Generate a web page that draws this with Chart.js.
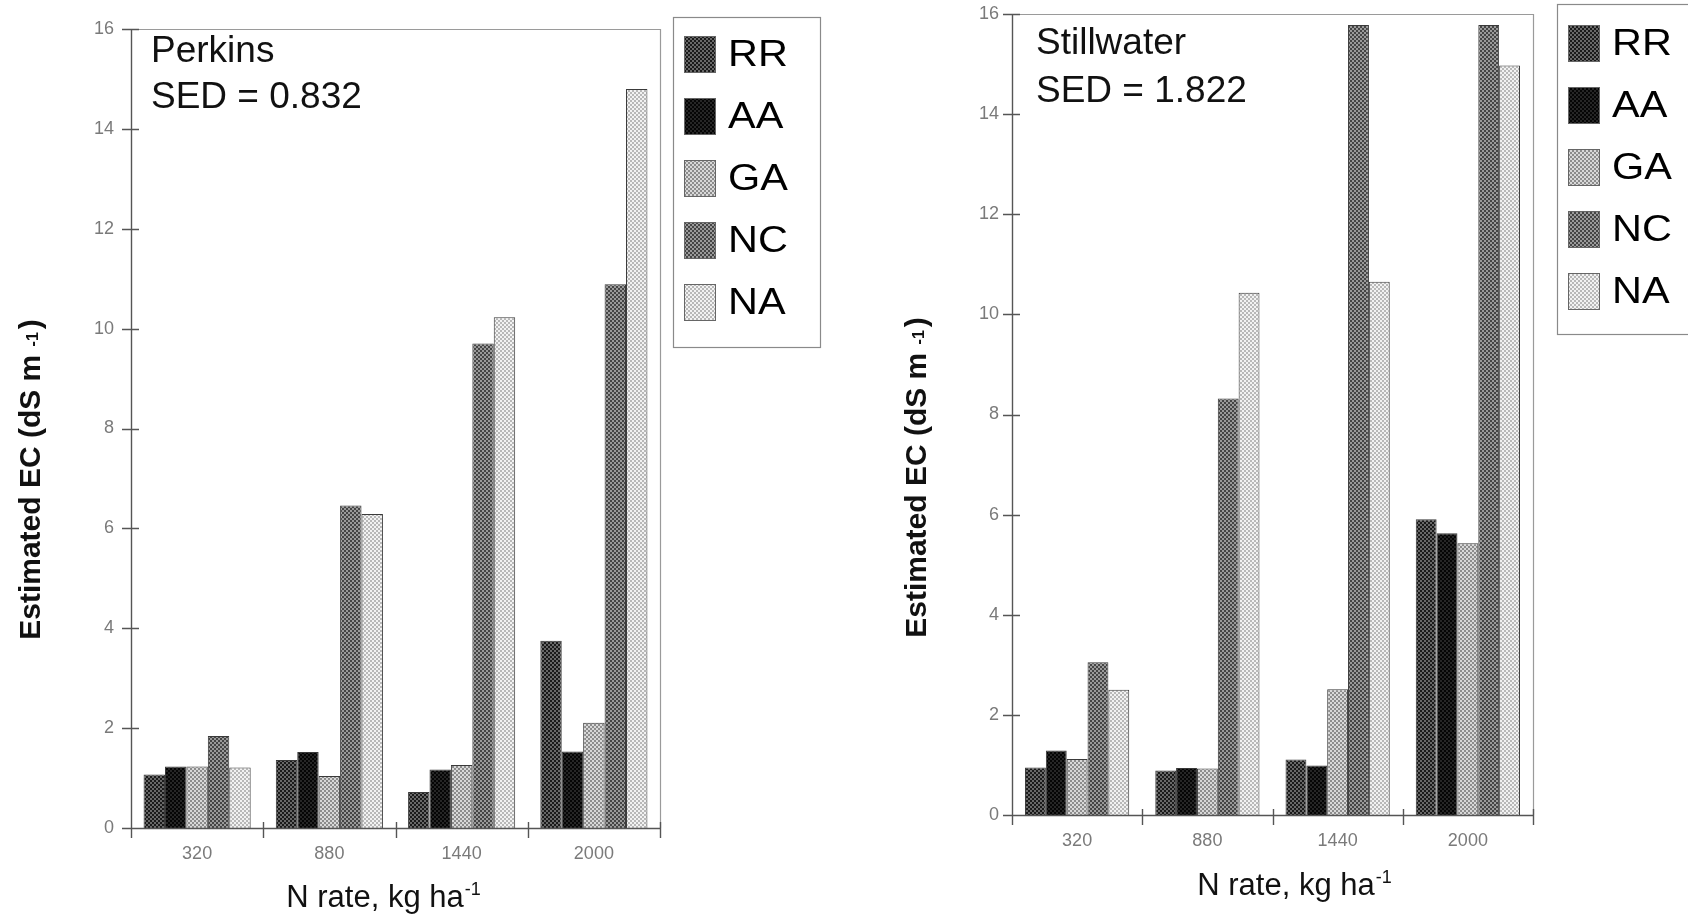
<!DOCTYPE html>
<html>
<head>
<meta charset="utf-8">
<script src="https://cdn.jsdelivr.net/npm/chart.js@4.4.1/dist/chart.umd.min.js"></script>
<style>
  html, body { margin: 0; padding: 0; background: #fff; }
  #wrap { position: relative; width: 1688px; height: 916px; overflow: hidden; }
  .panel { position: absolute; top: 0; width: 844px; height: 916px; }
</style>
</head>
<body>
<div id="wrap">
  <div class="panel" style="left:0"><canvas id="perkinsChart"></canvas></div>
  <div class="panel" style="left:844px"><canvas id="stillwaterChart"></canvas></div>
</div>
<script>
// N rates on the x axis and N sources in each group
const nRates = ['320', '880', '1440', '2000'];
const sources = ['RR', 'AA', 'GA', 'NC', 'NA'];

// Perkins, estimated EC (dS m-1)
const perkinsRR = [1.07, 1.36, 0.72, 3.75];
const perkinsAA = [1.23, 1.52, 1.17, 1.53];
const perkinsGA = [1.23, 1.04, 1.26, 2.11];
const perkinsNC = [1.84, 6.46, 9.70, 10.89];
const perkinsNA = [1.21, 6.29, 10.23, 14.80];

// Stillwater, estimated EC (dS m-1)
const stillwaterRR = [0.95, 0.89, 1.11, 5.91];
const stillwaterAA = [1.29, 0.94, 0.99, 5.63];
const stillwaterGA = [1.12, 0.93, 2.51, 5.43];
const stillwaterNC = [3.05, 8.32, 15.78, 15.78];
const stillwaterNA = [2.50, 10.43, 10.65, 14.97];

const FONT = '"Liberation Sans", Arial, Helvetica, sans-serif';

// halftone-like checker fills, one per source
function dotPattern(base, dot) {
    const c = document.createElement('canvas');
    c.width = 4; c.height = 4;
    const g = c.getContext('2d');
    g.fillStyle = base; g.fillRect(0, 0, 4, 4);
    g.fillStyle = dot; g.fillRect(0, 0, 2, 2); g.fillRect(2, 2, 2, 2);
    return g.createPattern(c, 'repeat');
}
const fills = [
    dotPattern('#1a1a1a', '#686868'), // RR
    dotPattern('#050505', '#262626'), // AA
    dotPattern('#8c8c8c', '#d8d8d8'), // GA
    dotPattern('#454545', '#9a9a9a'), // NC
    dotPattern('#b8b8b8', '#f2f2f2')  // NA
];

// frame, tick marks, axis titles, site note and legend
const panelDecor = {
    id: 'panelDecor',
    afterDraw(chart, args, o) {
        const { ctx, chartArea: a } = chart;
        const xs = chart.scales.x, ys = chart.scales.y;
        ctx.save();

        // light frame on top and right
        ctx.strokeStyle = '#9a9a9a';
        ctx.lineWidth = 1.2;
        ctx.beginPath();
        ctx.moveTo(a.left, a.top + 0.5);
        ctx.lineTo(a.right + 0.5, a.top + 0.5);
        ctx.lineTo(a.right + 0.5, a.bottom);
        ctx.stroke();

        // axes and crossing ticks
        ctx.strokeStyle = '#555';
        ctx.lineWidth = 1.4;
        ctx.beginPath();
        ctx.moveTo(a.left + 0.5, a.top);
        ctx.lineTo(a.left + 0.5, a.bottom + 10);
        ctx.moveTo(a.left - 9, a.bottom + 0.5);
        ctx.lineTo(a.right + 0.5, a.bottom + 0.5);
        ys.ticks.forEach(t => {
            const py = Math.round(ys.getPixelForValue(t.value)) + 0.5;
            ctx.moveTo(a.left - 9, py);
            ctx.lineTo(a.left + 8, py);
        });
        for (let i = 0; i <= nRates.length; i++) {
            const px = Math.round(xs.getPixelForValue(i - 0.5)) + 0.5;
            ctx.moveTo(px, a.bottom - 6);
            ctx.lineTo(px, a.bottom + 10);
        }
        ctx.stroke();

        ctx.fillStyle = '#111';

        // y title with small -1
        ctx.save();
        ctx.translate(o.yTitleX, o.yTitleY);
        ctx.rotate(-Math.PI / 2);
        const big = 'bold 30px ' + FONT, small = 'bold 16px ' + FONT;
        const p1 = 'Estimated EC (dS m ', p2 = '-1', p3 = ')';
        ctx.font = big;
        const w1 = ctx.measureText(p1).width, w3 = ctx.measureText(p3).width;
        ctx.font = small;
        const w2 = ctx.measureText(p2).width;
        let sx = -(w1 + w2 + w3) / 2;
        ctx.textBaseline = 'alphabetic';
        ctx.textAlign = 'left';
        ctx.font = big; ctx.fillText(p1, sx, 11);
        ctx.font = small; ctx.fillText(p2, sx + w1, 9);
        ctx.font = big; ctx.fillText(p3, sx + w1 + w2 + 3, 11);
        ctx.restore();

        // x title with superscript -1
        const xb = '31px ' + FONT, xsm = '18px ' + FONT;
        ctx.font = xb;
        const q1 = 'N rate, kg ha';
        const qw1 = ctx.measureText(q1).width;
        ctx.font = xsm;
        const qw2 = ctx.measureText('-1').width;
        const qx = o.xTitleX - (qw1 + qw2) / 2;
        ctx.textAlign = 'left';
        ctx.font = xb; ctx.fillText(q1, qx, o.xTitleY);
        ctx.font = xsm; ctx.fillText('-1', qx + qw1 + 1, o.xTitleY - 12);

        // site and SED note
        ctx.font = '37px ' + FONT;
        ctx.fillText(o.site, o.noteX, o.noteY1);
        ctx.fillText(o.sed, o.noteX, o.noteY2);

        // legend
        ctx.strokeStyle = '#8a8a8a';
        ctx.lineWidth = 1.2;
        ctx.strokeRect(o.legendX + 0.5, o.legendY + 0.5, o.legendW, 330);
        chart.data.datasets.forEach((ds, i) => {
            const top = o.legendY + o.rowOffset + i * 62;
            ctx.fillStyle = ds.backgroundColor;
            ctx.fillRect(o.legendX + 11, top, 32, 37);
            ctx.strokeStyle = '#666';
            ctx.lineWidth = 1;
            ctx.strokeRect(o.legendX + 11.5, top + 0.5, 31, 36);
            ctx.fillStyle = '#000';
            ctx.save();
            ctx.translate(o.legendX + 55, top + 30);
            ctx.scale(1.12, 1);
            ctx.font = '37px ' + FONT;
            ctx.fillText(ds.label, 0, 0);
            ctx.restore();
        });

        ctx.restore();
    }
};

function buildChart(canvasId, series, layout) {
    const datasets = sources.map((s, i) => ({
        label: s,
        data: series[i],
        backgroundColor: fills[i],
        borderColor: '#3a3a3a',
        borderWidth: 1,
        barPercentage: 1.0,
        categoryPercentage: layout.catPct
    }));
    return new Chart(document.getElementById(canvasId), {
        type: 'bar',
        data: { labels: nRates, datasets: datasets },
        options: {
            responsive: true,
            maintainAspectRatio: false,
            animation: false,
            layout: { padding: layout.padding },
            scales: {
                x: {
                    grid: { display: false, drawTicks: false, offset: true },
                    border: { display: false },
                    ticks: { color: '#7a7a7a', font: { family: FONT, size: 18 }, padding: 15 },
                    afterFit: s => { s.height = 50; }
                },
                y: {
                    min: 0,
                    max: 16,
                    grid: { display: false, drawTicks: false },
                    border: { display: false },
                    ticks: { stepSize: 2, color: '#7a7a7a', font: { family: FONT, size: 18 }, padding: layout.yPad },
                    afterFit: s => { s.width = layout.yWidth; s.paddingTop = 0; s.paddingBottom = 0; }
                }
            },
            plugins: {
                legend: { display: false },
                tooltip: { enabled: false },
                panelDecor: layout.decor
            }
        },
        plugins: [panelDecor]
    });
}

buildChart('perkinsChart', [perkinsRR, perkinsAA, perkinsGA, perkinsNC, perkinsNA], {
    padding: { left: 0, top: 29, right: 184, bottom: 38 },
    yWidth: 131, yPad: 17, catPct: 0.81,
    decor: {
        site: 'Perkins', sed: 'SED = 0.832', noteX: 151, noteY1: 62, noteY2: 108,
        legendX: 673, legendY: 17, legendW: 147, rowOffset: 19,
        yTitleX: 29, yTitleY: 481, xTitleX: 383, xTitleY: 907
    }
});

buildChart('stillwaterChart', [stillwaterRR, stillwaterAA, stillwaterGA, stillwaterNC, stillwaterNA], {
    padding: { left: 0, top: 14, right: 155, bottom: 51 },
    yWidth: 168, yPad: 13, catPct: 0.80,
    decor: {
        site: 'Stillwater', sed: 'SED = 1.822', noteX: 192, noteY1: 54, noteY2: 102,
        legendX: 713, legendY: 4, legendW: 160, rowOffset: 21,
        yTitleX: 71, yTitleY: 479, xTitleX: 450, xTitleY: 895
    }
});
</script>
</body>
</html>
